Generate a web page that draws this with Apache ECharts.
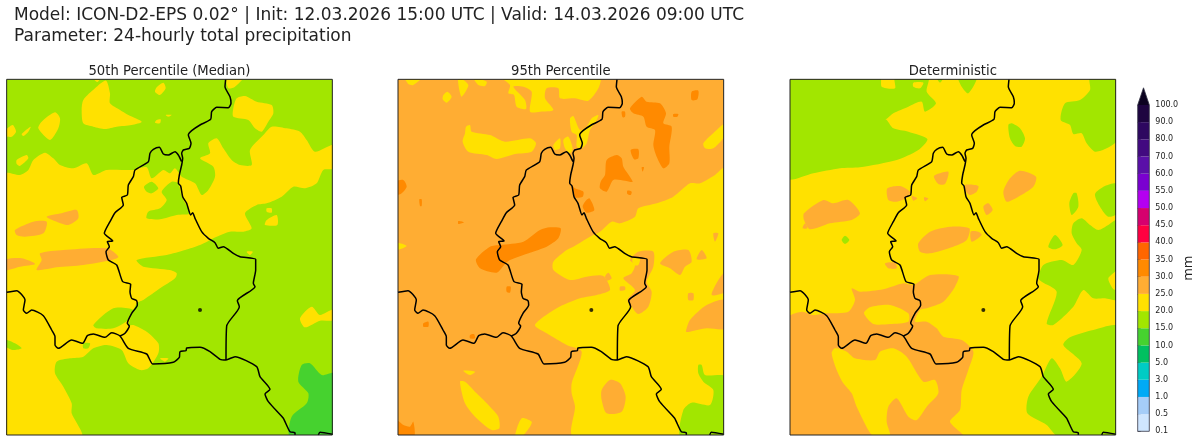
<!DOCTYPE html>
<html>
<head>
<meta charset="utf-8">
<title>ICON-D2-EPS precipitation</title>
<script src="https://cdn.jsdelivr.net/npm/echarts@6/dist/echarts.min.js"></script>
<style>
html, body { margin: 0; background: #fff; }
#chart { width: 1200px; height: 443px; }
</style>
</head>
<body>
<div id="chart"></div>
<script>
// colour bar
var barTicks = ['0.1', '0.5', '1.0', '3.0', '5.0', '10.0', '15.0', '20.0', '25.0', '30.0', '35.0', '40.0', '45.0', '50.0', '55.0', '60.0', '70.0', '80.0', '90.0', '100.0'];
var barColors = ['#cfe6ff', '#a5cdf8', '#00aaf5', '#00ccc4', '#00c060', '#46d22f', '#a2e600', '#ffe100', '#ffad33', '#ff8a00', '#ff6600', '#ff0040', '#d6006e', '#b400f0', '#7a00d0', '#5a10a8', '#420a80', '#2e0860', '#1e0540'];
var overColor = '#0c0220';

// map grid units run 20..997 across, 58..1125 down; levels are the bottom of a band
var median20 = [
    [[318,62],[330,100],[330,130],[360,150],[385,165],[425,185],[395,195],[350,200],[315,207],[280,200],[250,190],[245,150],[250,120],[285,85]],
    [[280,56],[300,56],[292,66]],
    [[490,68],[497,85],[480,105],[465,95],[470,82]],
    [[680,52],[730,52],[705,80],[685,85]],
    [[125,185],[165,157],[180,175],[175,205],[150,240],[115,205]],
    [[18,210],[38,195],[48,215],[35,230],[18,228]],
    [[65,222],[92,200],[85,215],[70,228]],
    [[50,300],[80,285],[85,295],[60,318],[50,312]],
    [[470,180],[482,178],[480,190],[465,188]],
    [[497,165],[515,165],[505,170]],
    [[700,145],[710,115],[735,108],[770,125],[815,135],[820,160],[805,185],[785,215],[765,205],[745,180],[700,170]],
    [[15,342],[60,345],[85,330],[100,300],[135,278],[160,295],[180,315],[220,325],[260,310],[280,345],[320,330],[400,330],[440,322],[455,355],[490,330],[510,340],[525,325],[545,350],[585,370],[605,405],[625,390],[645,350],[640,320],[600,295],[630,280],[625,250],[650,235],[670,265],[695,300],[720,315],[755,315],[750,270],[790,225],[815,200],[860,205],[900,215],[920,240],[945,275],[1002,255],[1002,325],[970,330],[950,370],[915,385],[880,380],[845,410],[800,430],[770,435],[735,460],[755,505],[730,515],[690,515],[650,530],[600,555],[555,570],[500,585],[410,600],[430,620],[510,630],[530,640],[525,655],[480,685],[430,720],[410,730],[385,795],[400,795],[440,815],[475,850],[475,880],[445,925],[420,930],[385,910],[365,870],[320,855],[280,865],[250,890],[210,895],[170,905],[165,940],[190,980],[215,1030],[215,1060],[245,1130],[15,1130]],
    [[800,445],[815,445],[815,458],[800,455]],
    [[830,465],[832,495],[795,495],[800,480]],
    [[740,575],[758,575],[750,585]],
    [[900,775],[935,740],[960,765],[1002,748],[1002,780],[960,782],[915,802]],
    [[480,895],[505,895],[495,905]]
];
var median15 = [
    [[280,795],[340,745],[400,750],[385,780],[340,805],[290,805]],
    [[18,840],[45,850],[65,865],[40,870],[18,860]],
    [[250,850],[270,850],[265,865],[250,865]],
    [[432,380],[455,365],[475,385],[455,400],[440,395]],
    [[515,365],[535,370],[545,410],[570,460],[530,465],[480,478],[440,475],[445,455],[480,445],[500,420],[485,395]]
];
var median25 = [
    [[45,510],[100,485],[140,485],[130,520],[75,530],[50,525]],
    [[140,470],[185,460],[230,450],[235,475],[205,495],[170,485]],
    [[120,580],[190,570],[320,565],[355,590],[335,600],[250,615],[170,622],[110,630],[125,600]],
    [[15,600],[65,595],[105,612],[60,620],[15,630]]
];
var median10 = [
    [[905,915],[930,910],[965,945],[1002,940],[1002,1130],[870,1130],[875,1070],[920,1030],[925,1000],[895,965]]
];

var p95Level20 = [
    [[45,52],[95,52],[70,75],[55,72]],
    [[205,52],[235,75],[215,110],[208,90]],
    [[250,52],[290,65],[285,78],[265,75]],
    [[335,52],[630,52],[625,85],[595,122],[555,115],[510,115],[505,85],[470,85],[465,115],[490,150],[450,155],[420,155],[425,95],[400,80],[370,80],[405,120],[408,147],[380,140],[372,105],[355,100],[360,75]],
    [[160,105],[172,95],[185,110],[170,128],[158,118]],
    [[540,175],[550,168],[570,210],[590,200],[605,175],[625,165],[620,180],[600,210],[590,250],[575,265],[560,260],[560,225],[545,215]],
    [[228,200],[240,195],[245,215],[300,225],[345,245],[420,235],[438,250],[425,275],[375,282],[320,297],[290,285],[235,275],[218,245],[225,220]],
    [[490,255],[510,235],[510,265],[495,270]],
    [[520,240],[535,230],[548,265],[540,280],[525,265]],
    [[940,250],[980,210],[1006,190],[1006,225],[970,265],[945,265]],
    [[18,548],[50,558],[18,570]],
    [[1006,322],[975,345],[930,370],[900,370],[850,410],[800,430],[745,445],[735,470],[690,490],[665,485],[630,515],[600,530],[550,560],[530,570],[490,605],[490,630],[540,660],[590,650],[640,648],[660,690],[620,705],[570,715],[500,745],[435,795],[470,820],[530,855],[575,875],[545,970],[545,1000],[555,1040],[550,1130],[1006,1130]],
    [[210,965],[225,965],[260,1000],[300,1040],[325,1070],[328,1105],[305,1110],[255,1070],[225,1030]],
    [[375,1130],[395,1075],[425,1085],[420,1100],[395,1130]],
    [[220,932],[255,935],[240,945]]
];
var p95Level25 = [
    [[720,600],[745,575],[790,575],[790,620],[770,665],[785,695],[775,740],[745,762],[725,740],[712,720],[735,690],[700,655],[725,640],[735,615]],
    [[810,610],[850,575],[895,570],[905,605],[885,620],[870,645],[840,625]],
    [[920,598],[935,570],[950,595]],
    [[965,705],[985,660],[1006,635],[1006,695]],
    [[895,700],[910,700],[910,720],[895,720]],
    [[888,815],[900,780],[950,735],[1006,720],[1006,805],[950,805],[900,815]],
    [[635,990],[660,960],[690,970],[707,1010],[695,1055],[650,1060],[635,1020]],
    [[645,650],[655,638],[665,655],[652,662]],
    [[690,680],[705,680],[705,690],[690,692]],
    [[970,520],[985,520],[975,545]]
];
var p95Spots20 = [
    [[728,595],[750,595],[745,615],[730,615]]
];
var p95Level15 = [
    [[925,915],[935,915],[945,945],[1006,950],[1006,1130],[872,1130],[880,1050],[905,1028],[960,1035],[970,990],[940,965],[925,940]]
];
var p95Level30 = [
    [[720,145],[755,110],[770,125],[810,130],[828,160],[820,190],[845,200],[838,260],[838,310],[820,325],[800,290],[790,255],[795,210],[770,200],[760,170],[730,160]],
    [[905,95],[925,92],[922,118],[905,120]],
    [[695,155],[705,155],[705,170],[698,172]],
    [[850,162],[865,162],[862,170],[850,170]],
    [[722,270],[745,268],[745,295],[732,298]],
    [[650,300],[680,285],[695,295],[700,320],[728,365],[705,362],[670,360],[650,395],[630,385],[632,365],[645,345]],
    [[712,392],[725,395],[722,405],[712,402]],
    [[755,322],[762,322],[758,335]],
    [[18,365],[40,360],[50,380],[35,400],[18,405]],
    [[88,418],[95,418],[95,438],[90,438]],
    [[205,483],[222,487],[205,492]],
    [[545,375],[555,385],[580,395],[578,410],[555,412]],
    [[585,425],[598,415],[613,450],[590,458],[578,440]],
    [[258,598],[300,560],[330,555],[400,545],[450,510],[480,502],[512,505],[505,535],[470,560],[420,578],[360,600],[345,612],[320,638],[270,625]],
    [[18,1080],[40,1095],[60,1100],[70,1085],[72,1130],[18,1130]],
    [[100,790],[115,785],[115,800],[100,800]],
    [[240,825],[252,822],[255,835],[240,835]],
    [[350,680],[362,680],[360,698],[350,695]]
];

var detLevel15 = [
    [[22,52],[300,52],[305,80],[345,85],[345,52],[445,52],[440,95],[468,130],[435,155],[425,125],[385,140],[340,160],[318,178],[305,178],[282,150],[320,180],[340,205],[385,215],[442,237],[415,270],[350,300],[240,322],[180,325],[100,340],[22,355]],
    [[535,52],[590,52],[565,100],[545,80]],
    [[470,52],[490,52],[480,68]],
    [[930,52],[1012,52],[1012,240],[980,265],[945,275],[920,250],[905,220],[880,222],[870,195],[842,180],[855,130],[900,120],[930,90]],
    [[685,195],[695,190],[720,205],[735,235],[725,260],[705,258],[690,235]],
    [[1012,372],[975,378],[945,402],[960,440],[985,470],[1012,460]],
    [[880,490],[905,475],[930,495],[955,510],[985,495],[1012,480],[1012,625],[985,655],[1000,688],[1012,690],[1012,720],[975,715],[940,715],[910,690],[880,740],[820,795],[800,790],[830,695],[785,665],[775,655],[790,615],[845,600],[880,615],[905,570],[890,550],[875,520]],
    [[1012,800],[940,810],[870,832],[850,855],[905,910],[860,965],[840,925],[815,895],[785,950],[745,1010],[742,1060],[800,1095],[835,1130],[1012,1130]],
    [[880,400],[890,400],[895,440],[875,465],[868,430]],
    [[805,560],[825,525],[848,555],[825,568]],
    [[185,540],[195,527],[208,540],[195,552]]
];
var detLevel20 = [
    [[400,68],[430,68],[420,85],[400,80]]
];
var detLevel25 = [
    [[72,460],[130,420],[160,430],[205,420],[240,460],[215,480],[150,490],[90,508],[72,480]],
    [[68,505],[75,490],[82,505]],
    [[322,385],[360,378],[390,395],[385,410],[350,425],[325,420]],
    [[395,408],[412,415],[400,422]],
    [[432,412],[445,415],[435,424]],
    [[462,348],[505,335],[495,372],[475,372]],
    [[555,375],[595,378],[590,395],[570,405],[558,395]],
    [[670,395],[690,355],[720,332],[768,350],[760,380],[715,410],[680,425]],
    [[610,440],[625,430],[638,450],[620,465]],
    [[415,550],[450,515],[510,500],[568,505],[560,540],[520,560],[450,580],[420,575]],
    [[572,515],[595,515],[605,525],[575,545]],
    [[315,610],[345,608],[350,625],[325,625]],
    [[22,775],[65,755],[100,765],[140,760],[205,755],[225,720],[215,685],[240,695],[310,688],[370,670],[400,675],[450,645],[535,648],[525,680],[490,725],[440,745],[420,750],[405,785],[440,785],[470,805],[490,830],[545,840],[580,875],[565,930],[545,990],[540,1050],[510,1085],[550,1130],[22,1130]]
];
var detSpots20 = [
    [[252,760],[270,742],[330,735],[385,760],[385,785],[330,792],[280,792]],
    [[155,880],[165,865],[200,875],[225,895],[285,900],[300,875],[340,865],[380,890],[430,965],[465,960],[475,1000],[440,1040],[410,1080],[385,1070],[350,1015],[325,1040],[320,1085],[330,1130],[280,1130],[230,1040],[215,1000],[190,970],[170,930]]
];

// borders, read on the first panel
var borderEast = [[677,58],[675,80],[690,110],[693,130],[685,143],[650,142],[635,155],[632,178],[600,195],[575,212],[565,225],[573,250],[568,265],[550,270],[545,280],[548,295],[545,315],[538,345],[535,370],[542,378],[548,410],[560,430],[572,465],[578,458],[585,475],[605,515],[625,535],[645,548],[655,565],[670,560],[700,580],[720,590],[767,598],[767,630],[760,670],[765,680],[712,722],[718,740],[680,798],[678,900]];
var borderNorth = [[545,305],[535,285],[525,275],[505,285],[490,282],[478,262],[460,268],[450,280],[445,305],[405,330],[400,350],[385,375],[382,405],[365,412],[370,435],[345,458],[330,485],[313,520],[338,543],[322,545],[328,560],[318,575],[325,600],[350,615],[368,665],[392,673],[390,695],[395,715],[410,722],[412,735],[395,760],[382,790],[388,798],[375,820],[360,828]];
var borderSouth = [[20,697],[50,692],[75,720],[70,750],[80,760],[95,750],[130,767],[155,810],[165,830],[165,855],[175,865],[215,840],[248,850],[262,827],[280,822],[315,832],[335,818],[360,828],[385,865],[440,882],[458,912],[520,907],[538,892],[540,875],[558,872],[560,864],[600,862],[630,875],[660,898],[678,900],[705,890],[770,920],[780,950],[810,988],[795,1002],[805,1025],[850,1075],[855,1085],[870,1115],[885,1118],[885,1125]];
var borderCorner = [[955,1125],[960,1117],[997,1123]];
var cityPoint = [[600,750]];

var panelNames = ['50th Percentile (Median)', '95th Percentile', 'Deterministic'];
var panelRange = [[20, 997], [24, 1001], [30, 1007]];
var panelLeft = [6.67, 398, 790];
var panelBase = [15, 25, 20];
var panelLayers = [
    [[20, median20], [15, median15], [25, median25], [10, median10]],
    [[20, p95Level20], [25, p95Level25], [20, p95Spots20], [15, p95Level15], [30, p95Level30]],
    [[15, detLevel15], [20, detLevel20], [25, detLevel25], [20, detSpots20]]
];

function levelColor(level) {
    var i = barTicks.indexOf(level.toFixed(1));
    return barColors[i];
}

function fieldSeries(i) {
    var shapes = [];
    var r = panelRange[i];
    shapes.push({ level: panelBase[i], pts: [[r[0], 58], [r[1], 58], [r[1], 1125], [r[0], 1125]], sharp: true });
    panelLayers[i].forEach(function(layer) {
        layer[1].forEach(function(pts) {
            shapes.push({ level: layer[0], pts: pts });
        });
    });
    return {
        type: 'custom',
        xAxisIndex: i,
        yAxisIndex: i,
        clip: true,
        silent: true,
        z: 2,
        data: shapes.map(function(s, k) { return [k, s.level]; }),
        renderItem: function(params, api) {
            var s = shapes[params.dataIndex];
            return {
                type: 'polygon',
                shape: {
                    points: s.pts.map(function(p) { return api.coord(p); }),
                    smooth: s.sharp ? 0 : 0.25
                },
                style: { fill: levelColor(s.level) }
            };
        }
    };
}

function shifted(line, i) {
    var dx = panelRange[i][0] - panelRange[0][0];
    return line.map(function(p) { return [p[0] + dx, p[1]]; });
}

function borderSeries(i) {
    return [borderEast, borderNorth, borderSouth, borderCorner].map(function(line) {
        return {
            type: 'line',
            xAxisIndex: i,
            yAxisIndex: i,
            data: shifted(line, i),
            showSymbol: false,
            symbol: 'none',
            smooth: 0.2,
            silent: true,
            z: 4,
            lineStyle: { color: '#000', width: 1.5 }
        };
    });
}

function frameSeries(i) {
    var r = panelRange[i];
    return {
        type: 'custom',
        xAxisIndex: i,
        yAxisIndex: i,
        clip: false,
        silent: true,
        z: 5,
        data: [[0, 0]],
        renderItem: function(params, api) {
            var a = api.coord([r[0], 58]);
            var b = api.coord([r[1], 1125]);
            return {
                type: 'rect',
                shape: { x: a[0], y: a[1], width: b[0] - a[0], height: b[1] - a[1] },
                style: { fill: null, stroke: '#222', lineWidth: 1 }
            };
        }
    };
}

var grids = [], xAxes = [], yAxes = [], titles = [], series = [];

titles.push({ text: 'Model: ICON-D2-EPS 0.02\u00b0 | Init: 12.03.2026 15:00 UTC | Valid: 14.03.2026 09:00 UTC', left: 9, top: 2, textStyle: { fontFamily: 'DejaVu Sans', fontSize: 17, fontWeight: 'normal', color: '#222' } });
titles.push({ text: 'Parameter: 24-hourly total precipitation', left: 9, top: 23, textStyle: { fontFamily: 'DejaVu Sans', fontSize: 17, fontWeight: 'normal', color: '#222' } });

panelNames.forEach(function(name, i) {
    grids.push({ left: panelLeft[i], top: 79.33, width: 325.67, height: 355.67 });
    xAxes.push({ type: 'value', gridIndex: i, min: panelRange[i][0], max: panelRange[i][1], show: false });
    yAxes.push({ type: 'value', gridIndex: i, min: 58, max: 1125, inverse: true, show: false });
    titles.push({
        text: name,
        left: panelLeft[i] + 157.8,
        top: 60,
        textAlign: 'center',
        textStyle: { fontFamily: 'DejaVu Sans', fontSize: 13.2, fontWeight: 'normal', color: '#222' }
    });
    series.push(fieldSeries(i));
    series = series.concat(borderSeries(i));
    series.push({
        type: 'scatter',
        xAxisIndex: i,
        yAxisIndex: i,
        data: shifted(cityPoint, i),
        symbolSize: 4,
        silent: true,
        z: 6,
        itemStyle: { color: '#000' }
    });
    series.push(frameSeries(i));
});

// colour bar panel
grids.push({ left: 1137.7, top: 105, width: 11.6, height: 326.3 });
xAxes.push({ type: 'value', gridIndex: 3, min: 0, max: 1, show: false });
yAxes.push({
    type: 'value',
    gridIndex: 3,
    min: 0,
    max: 19,
    interval: 1,
    position: 'right',
    name: 'mm',
    nameLocation: 'middle',
    nameRotate: 90,
    nameGap: 31,
    nameTextStyle: { fontFamily: 'DejaVu Sans', fontSize: 13, color: '#222' },
    splitLine: { show: false },
    axisLine: { show: false },
    axisTick: { show: true, length: 3, lineStyle: { color: '#333', width: 0.8 } },
    axisLabel: {
        fontFamily: 'DejaVu Sans',
        fontSize: 8,
        color: '#222',
        margin: 6,
        formatter: function(v) { return barTicks[v]; }
    }
});
series.push({
    type: 'custom',
    xAxisIndex: 3,
    yAxisIndex: 3,
    clip: false,
    silent: true,
    data: barColors.map(function(c, k) { return [k, k + 1]; }),
    renderItem: function(params, api) {
        var a = api.coord([0, api.value(1)]);
        var b = api.coord([1, api.value(0)]);
        return {
            type: 'rect',
            shape: { x: a[0], y: a[1], width: b[0] - a[0], height: b[1] - a[1] },
            style: { fill: barColors[params.dataIndex] }
        };
    }
});
series.push({
    type: 'custom',
    xAxisIndex: 3,
    yAxisIndex: 3,
    clip: false,
    silent: true,
    z: 3,
    data: [[0, 0]],
    renderItem: function(params, api) {
        var outline = [[0, 19], [0.5, 20], [1, 19], [1, 0], [0, 0]].map(function(p) { return api.coord(p); });
        return {
            type: 'group',
            children: [{
                type: 'polygon',
                shape: { points: [api.coord([0, 19]), api.coord([0.5, 20]), api.coord([1, 19])] },
                style: { fill: overColor }
            }, {
                type: 'polygon',
                shape: { points: outline },
                style: { fill: null, stroke: '#334', lineWidth: 0.8 }
            }]
        };
    }
});

var chart = echarts.init(document.getElementById('chart'), null, { renderer: 'canvas' });
chart.setOption({
    animation: false,
    backgroundColor: '#fff',
    title: titles,
    grid: grids,
    xAxis: xAxes,
    yAxis: yAxes,
    series: series
});
</script>
</body>
</html>
